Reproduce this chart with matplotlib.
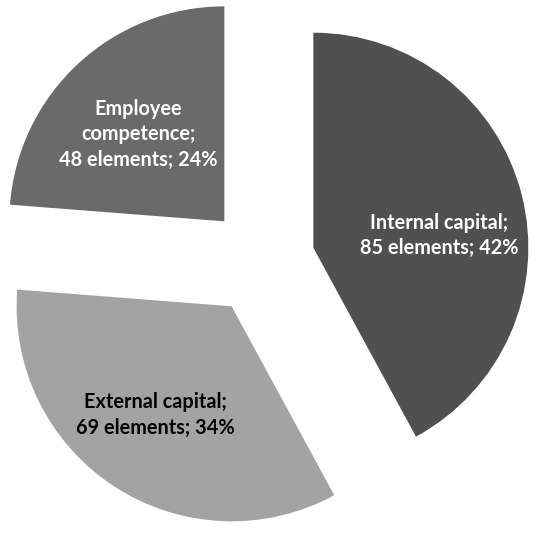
"""Pie chart of intellectual capital elements."""

import matplotlib
matplotlib.use("Agg")
import matplotlib.pyplot as plt

categories = ["Internal capital", "External capital", "Employee\ncompetence"]
elements = [85, 69, 48]
colors = ["#505050", "#a3a3a3", "#6a6a6a"]
text_colors = ["white", "black", "white"]

total = sum(elements)
labels = [f"{c};\n{n} elements; {round(100 * n / total)}%" for c, n in zip(categories, elements)]

fig = plt.figure(figsize=(5.34, 5.35), dpi=100)
ax = fig.add_axes([0, 0, 1, 1])

wedges, texts = ax.pie(
    elements,
    labels=labels,
    colors=colors,
    startangle=90,
    counterclock=False,
    radius=215,
    center=(261, 274),
    explode=[54, 54, 54],
    labeldistance=0.59,
    textprops=dict(fontfamily="Lato", fontweight="bold", fontsize=14.3),
)
# small nudges so the labels sit where the original placed them
nudges = [(3, -19), (-7, -2), (0, -6)]
for t, c, (dx, dy) in zip(texts, text_colors, nudges):
    x, y = t.get_position()
    t.set_position((x + dx, y + dy))
    t.set_ha("center")
    t.set_va("center")
    t.set_multialignment("center")
    t.set_color(c)
    t.set_linespacing(1.35)

ax.set_xlim(0, 534)
ax.set_ylim(0, 535)
ax.set_aspect("equal")
ax.axis("off")

fig.savefig("out.png", dpi=100)
